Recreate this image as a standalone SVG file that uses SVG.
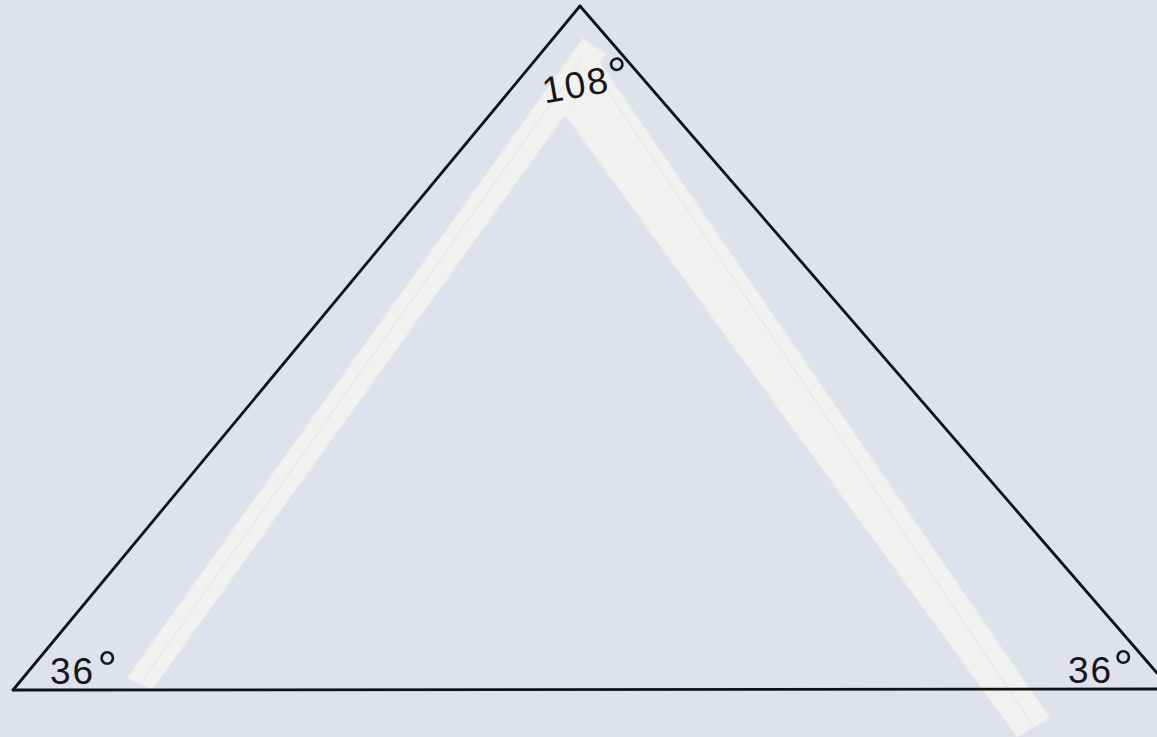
<svg xmlns="http://www.w3.org/2000/svg" width="1157" height="737" viewBox="0 0 1157 737">
  <style>
    .edge { stroke: #121216; stroke-width: 2.8; fill: none; stroke-linecap: round; }
    .tape { fill: #f1f1ef; stroke: #e9e9e6; stroke-width: 1; }
    .crease { stroke: #e6e6e3; stroke-width: 1.2; fill: none; }
    .lbl { font-family: "Liberation Sans", "DejaVu Sans", sans-serif; font-size: 37px; fill: #16161a; letter-spacing: 2px; }
    .deg { font-size: 50px; }
  </style>
  <rect x="0" y="0" width="1157" height="737" fill="#dfe2ec"/>
  <g id="tape">
    <polygon class="tape" points="583,38 1050,718 1017,737 565,115 548,100 585,88"/>
    <polygon class="tape" points="583,38 606,54 565,115 152,690 127,678"/>
    <line class="crease" x1="595" y1="72" x2="1034" y2="727"/>
    <line class="crease" x1="583" y1="58" x2="140" y2="684"/>
  </g>
  <g id="triangle">
    <line class="edge" x1="13" y1="690" x2="580" y2="6"/>
    <line class="edge" x1="580" y1="6" x2="1157" y2="673"/>
    <line class="edge" x1="13" y1="690" x2="1157" y2="689"/>
  </g>
  <g id="label-top">
    <text class="lbl" x="542" y="97" letter-spacing="1" transform="rotate(-10 580 85)">108<tspan class="deg" dy="2">°</tspan></text>
  </g>
  <g id="label-left">
    <text class="lbl" x="50" y="684">36<tspan class="deg" dx="2" dy="2">°</tspan></text>
  </g>
  <g id="label-right">
    <text class="lbl" x="1068" y="683">36<tspan class="deg" dy="2">°</tspan></text>
  </g>
</svg>
